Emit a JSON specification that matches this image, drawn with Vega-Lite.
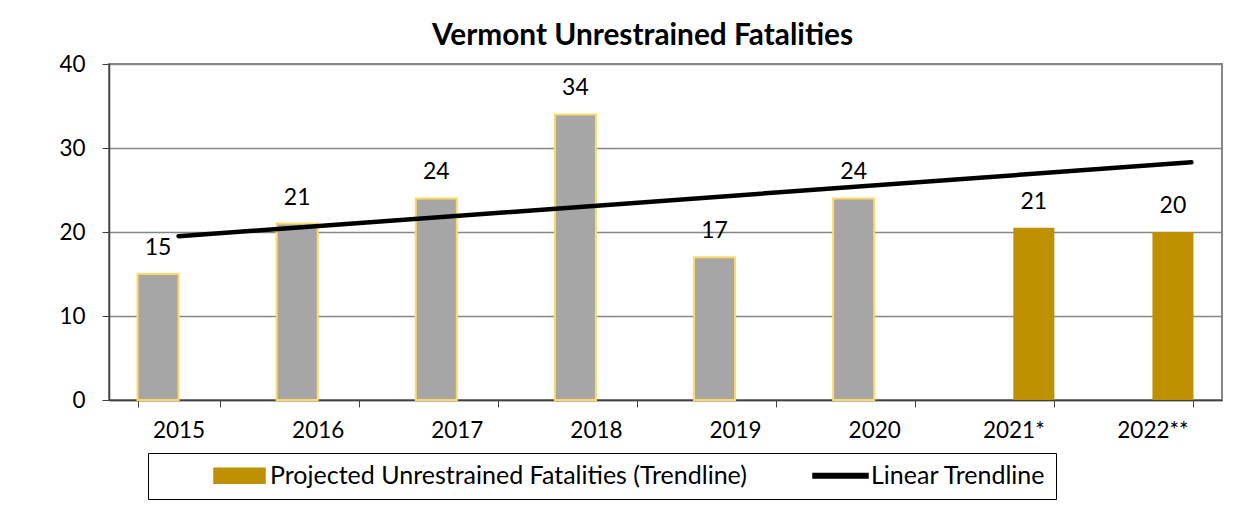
{
  "$schema": "https://vega.github.io/schema/vega-lite/v6.json",
  "width": 1113,
  "height": 336,
  "autosize": {"type": "none"},
  "padding": {"left": 109, "top": 64, "right": 27, "bottom": 114},
  "background": "white",
  "title": {"text": "Vermont Unrestrained Fatalities", "font": "Lato", "fontSize": 29.8, "fontWeight": "bold", "color": "black", "anchor": "middle", "dx": -23, "offset": 2},
  "config": {"view": {"stroke": "#868686", "strokeWidth": 2}, "font": "Lato"},
  "datasets": {
    "bars": [
      {"year": "2015", "series": "Actual", "value": 15, "label": "15"},
      {"year": "2016", "series": "Actual", "value": 21, "label": "21"},
      {"year": "2017", "series": "Actual", "value": 24, "label": "24"},
      {"year": "2018", "series": "Actual", "value": 34, "label": "34"},
      {"year": "2019", "series": "Actual", "value": 17, "label": "17"},
      {"year": "2020", "series": "Actual", "value": 24, "label": "24"},
      {"year": "2021*", "series": "Projected Unrestrained Fatalities (Trendline)", "value": 20.5, "label": "21"},
      {"year": "2022**", "series": "Projected Unrestrained Fatalities (Trendline)", "value": 20, "label": "20"}
    ],
    "trend": [
      {"pos": 1, "value": 19.5, "series": "Linear Trendline"},
      {"pos": 8.28, "value": 28.3, "series": "Linear Trendline"}
    ]
  },
  "layer": [
    {
      "data": {"name": "bars"},
      "encoding": {
        "x": {"field": "year", "type": "nominal", "sort": null,
          "scale": {"paddingInner": 0.41, "paddingOuter": 0.205},
          "axis": {"title": null, "labelAngle": 0, "labelFont": "Lato", "labelFontSize": 22.5, "labelColor": "black", "labelPadding": 12, "tickBand": "extent", "tickSize": 7, "tickColor": "#404040", "domainColor": "#404040", "domainWidth": 1.5, "grid": false}},
        "xOffset": {"field": "series", "type": "nominal", "scale": {"domain": ["Actual", "Projected Unrestrained Fatalities (Trendline)"], "paddingInner": 0, "paddingOuter": 0}},
        "y": {"field": "value", "type": "quantitative",
          "scale": {"domain": [0, 40]},
          "axis": {"title": null, "values": [0, 10, 20, 30, 40], "labelFont": "Lato", "labelFontSize": 22.5, "labelColor": "black", "labelPadding": 17, "tickSize": 7, "tickColor": "#404040", "domainColor": "#404040", "domainWidth": 1.5, "gridColor": "#868686", "gridWidth": 1.5}}
      },
      "layer": [
        {
          "mark": {"type": "bar", "strokeWidth": 2},
          "encoding": {
            "color": {"field": "series", "type": "nominal",
              "scale": {"domain": ["Actual", "Projected Unrestrained Fatalities (Trendline)", "Linear Trendline"], "range": ["#A6A6A6", "#BF9000", "#000000"]},
              "legend": {
                "title": null, "orient": "none", "legendX": 39, "legendY": 389, "direction": "horizontal",
                "values": ["Projected Unrestrained Fatalities (Trendline)", "Linear Trendline"],
                "strokeColor": "black", "padding": 10, "symbolOffset": 69, "columnPadding": 12,
                "labelFont": "Lato", "labelFontSize": 25, "labelColor": "black", "labelLimit": 1000, "labelOffset": 18,
                "symbolSize": 400,
                "symbolType": {"expr": "datum.value === 'Linear Trendline' ? 'M-2.75,-0.225H2.75V0.225H-2.75Z' : 'M-2.55,-0.75H2.55V0.75H-2.55Z'"}
              }},
            "stroke": {"condition": {"test": "datum.series === 'Actual'", "value": "#FFD966"}, "value": null}
          }
        },
        {
          "mark": {"type": "text", "baseline": "alphabetic", "dy": -19, "fontSize": 23, "font": "Lato", "color": "black"},
          "encoding": {"text": {"field": "label"}}
        }
      ]
    },
    {
      "data": {"name": "trend"},
      "mark": {"type": "line", "strokeWidth": 4.5, "strokeCap": "round"},
      "encoding": {
        "x": {"field": "pos", "type": "quantitative", "scale": {"domain": [0.5, 8.5]}, "axis": null},
        "y": {"field": "value", "type": "quantitative"},
        "color": {"field": "series", "type": "nominal", "legend": null}
      }
    }
  ],
  "resolve": {"scale": {"x": "independent"}}
}
